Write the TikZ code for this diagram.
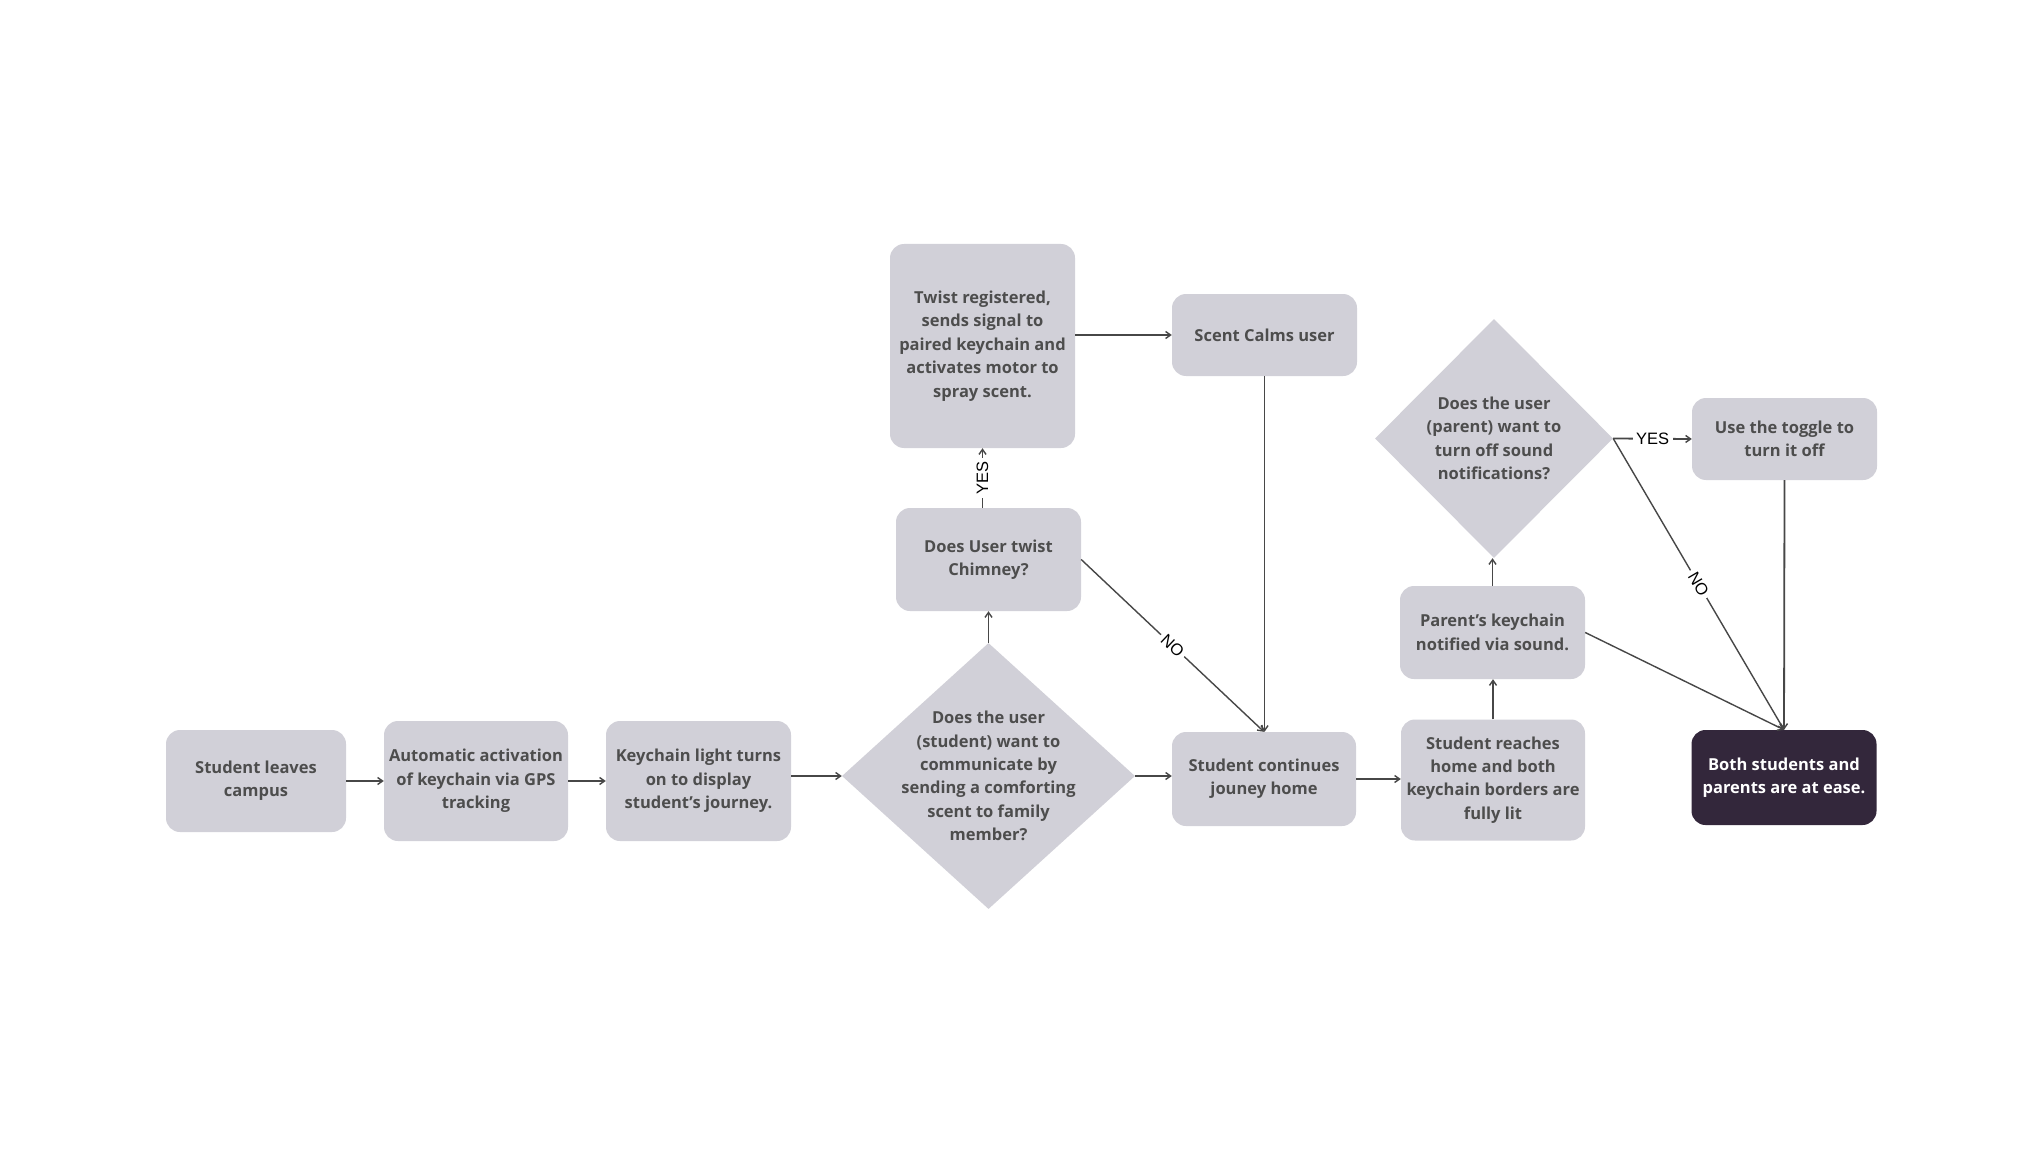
\documentclass[tikz,border=0pt]{standalone}
\usepackage{fontspec}
\setmainfont{Open Sans}
\newfontfamily\lblfont{Liberation Sans}
\usetikzlibrary{shapes.geometric,arrows.meta}
\definecolor{boxfill}{HTML}{D1D0D8}
\definecolor{darkfill}{HTML}{33273B}
\definecolor{boxtext}{HTML}{4D4D4D}
\definecolor{linecol}{HTML}{474747}
\tikzset{
  x=1pt, y=-1pt,
  stepbox/.style={draw=none, fill=boxfill, rounded corners=14pt, align=center,
    text=boxtext, font=\bfseries\fontsize{16.5}{23.4}\selectfont, inner sep=0pt},
  endbox/.style={stepbox, fill=darkfill, text=white},
  decbox/.style={shape=diamond, draw=none, fill=boxfill, inner sep=0pt},
  dectext/.style={align=center, text=boxtext, font=\bfseries\fontsize{16.5}{23.4}\selectfont, inner sep=0pt},
  conn/.style={draw=linecol, line width=1.8pt, -{Straight Barb[length=5pt,width=7pt,line width=1.4pt]}},
  thinconn/.style={conn, line width=1.4pt},
  lbl/.style={fill=white, text=black, font=\lblfont\fontsize{16.5}{18}\selectfont, inner sep=3.5pt},
}
\begin{document}
\begin{tikzpicture}
\useasboundingbox[fill=white] (0,0) rectangle (2044,1150);

\node[stepbox, minimum width=180pt, minimum height=102pt] (s1) at (256,781) {Student leaves\\campus};
\node[stepbox, minimum width=184pt, minimum height=120pt] (s2) at (476,781) {Automatic activation\\of keychain via GPS\\tracking};
\node[stepbox, minimum width=185pt, minimum height=120pt] (s3) at (698.5,781) {Keychain light turns\\on to display\\student’s journey.};
\node[decbox, minimum width=293pt, minimum height=266pt] (d1) at (988.5,776) {};
\node[dectext] (d1t) at (d1.center) {Does the user\\(student) want to\\communicate by\\sending a comforting\\scent to family\\member?};
\node[stepbox, minimum width=185pt, minimum height=103pt] (ch) at (988.5,559.5) {Does User twist\\Chimney?};
\node[stepbox, minimum width=185pt, minimum height=204pt] (tw) at (982.5,346) {Twist registered,\\sends signal to\\paired keychain and\\activates motor to\\spray scent.};
\node[stepbox, minimum width=185pt, minimum height=82pt] (sc) at (1264.5,335) {Scent Calms user};
\node[stepbox, minimum width=184pt, minimum height=94pt] (sh) at (1264,779) {Student continues\\jouney home};
\node[stepbox, minimum width=184pt, minimum height=121pt] (sr) at (1493,780) {Student reaches\\home and both\\keychain borders are\\fully lit};
\node[stepbox, minimum width=185pt, minimum height=93pt] (pk) at (1492.5,632.5) {Parent’s keychain\\notified via sound.};
\node[decbox, minimum width=238pt, minimum height=239pt] (d2) at (1494,438.5) {};
\node[dectext] (d2t) at (d2.center) {Does the user\\(parent) want to\\turn off sound\\notifications?};
\node[stepbox, minimum width=185pt, minimum height=82pt] (tg) at (1784.5,439) {Use the toggle to\\turn it off};
\node[endbox, minimum width=185pt, minimum height=95pt] (en) at (1784,777.5) {Both students and\\parents are at ease.};

\draw[conn] (s1.east) -- (s2.west);
\draw[conn] (s2.east) -- (s3.west);
\draw[conn] (s3.east |- d1.west) -- (d1.west);
\draw[conn] (d1.east) -- (d1.east -| sh.west);
\draw[conn] (sh.east) -- (sh.east -| sr.west);
\draw[conn] (d1.north) -- (ch.south);
\draw[conn] (ch.north -| tw.south) -- node[lbl, sloped] {YES} (tw.south);
\draw[conn] (tw.east |- sc.west) -- (sc.west);
\draw[conn] (sc.south) -- (sh.north -| sc.south);
\draw[thinconn] (ch.east) -- node[lbl, sloped] {NO} (sh.north);
\draw[conn] (sr.north) -- (pk.south -| sr.north);
\draw[conn] (pk.north) -- (d2.south -| pk.north);
\draw[conn] (d2.east) -- node[lbl] {YES} (tg.west);
\draw[thinconn] (d2.east) -- node[lbl, sloped] {NO} (en.north);
\draw[thinconn] (pk.east) -- (en.north);
\draw[conn] (tg.south) -- (en.north);
\end{tikzpicture}
\end{document}
